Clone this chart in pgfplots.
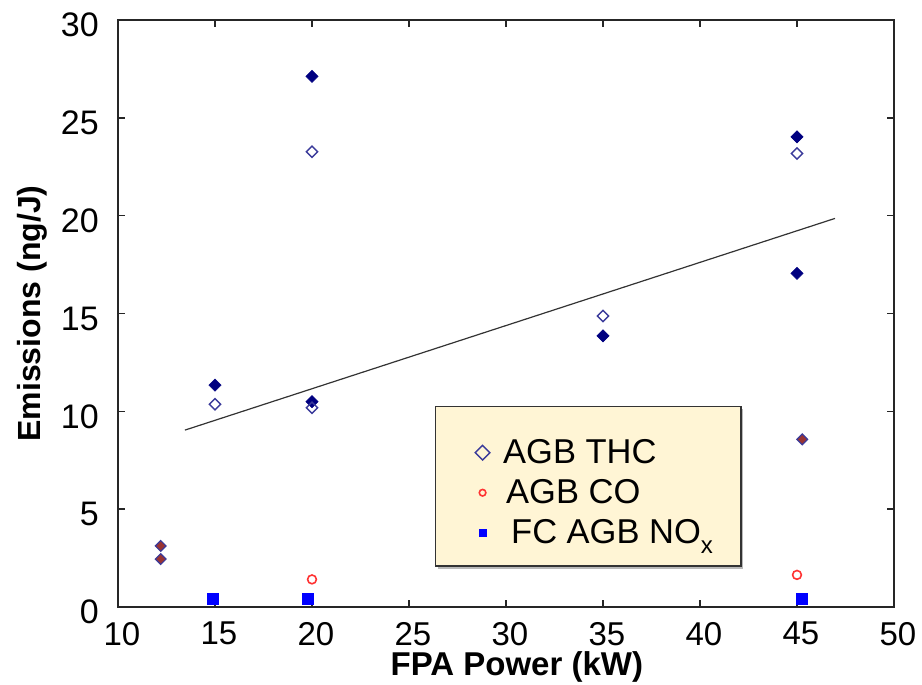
\documentclass[border=0pt]{standalone}
\usepackage{pgfplots}
\pgfplotsset{compat=1.18}
\usepackage{fontspec}
\setmainfont{Liberation Sans}
\usetikzlibrary{shadows}
\definecolor{navyd}{HTML}{000080}
\definecolor{thcopen}{HTML}{3A3A9A}
\definecolor{brownd}{HTML}{993333}
\definecolor{cored}{HTML}{FF3333}
\definecolor{noxblue}{HTML}{0000FF}
\definecolor{legfill}{HTML}{FFF5D5}
\begin{document}
\begin{tikzpicture}
\begin{axis}[
  scale only axis, width=776pt, height=587pt,
  xmin=10, xmax=50, ymin=0, ymax=30,
  xtick={10,15,...,50}, ytick={0,5,...,30},
  tick align=inside, major tick length=7pt,
  tick style={line width=1.5pt, color=black!85},
  axis line style={line width=2pt, color=black!85},
  /pgf/number format/assume math mode=true,
  xticklabel style={font=\fontsize{33}{33}\selectfont, anchor=north, inner sep=0pt, yshift=-15pt, xshift=4pt},
  yticklabel style={font=\fontsize{34}{34}\selectfont, anchor=east, inner sep=0pt, xshift=-19pt, yshift=-5pt},
  xlabel={FPA Power (kW)},
  ylabel={Emissions (ng/J)},
  every axis x label/.style={at={(axis description cs:0.514,-0.1165)}, anchor=base, font=\bfseries\fontsize{33}{33}\selectfont},
  every axis y label/.style={at={(axis description cs:-0.1005,0.5)}, rotate=90, anchor=base, font=\bfseries\fontsize{32}{32}\selectfont},
  legend style={at={(axis description cs:0.4085,0.0687)}, anchor=south west,
    fill=legfill, draw=black!80, line width=1.2pt,
    drop shadow={shadow xshift=2.5pt, shadow yshift=-2.5pt, fill=black!55},
    inner xsep=28pt, inner ysep=19.85pt, row sep=0pt, column sep=0pt,
    font=\fontsize{34.5}{40}\selectfont,
    nodes={inner sep=0pt, text height=37.5pt, text depth=2.5pt},
    cells={anchor=base west}},
  legend image code/.code={\path (-18.4pt,11pt) (20pt,11pt); \draw[#1] plot coordinates {(0pt,11pt)};},
]
% unlisted filled diamonds
\addplot[only marks, mark=square*, mark size=4.3pt, mark options={rotate=45, fill=navyd, draw=navyd, line width=0.6pt}, forget plot]
  coordinates {(15,11.34) (20,27.12) (20,10.49) (35,13.86) (45,24.03) (45,17.05)};
% AGB THC
\addplot[only marks, mark=square, mark size=4pt, mark options={rotate=45, fill=white, draw=thcopen, line width=1.4pt},
  legend image post style={mark size=5.2pt}]
  coordinates {(15,10.36) (20,23.27) (20,10.18) (35,14.87) (45,23.18)};
% unlisted brown diamonds
\addplot[only marks, mark=square*, mark size=3.8pt, mark options={rotate=45, fill=brownd, draw=thcopen, line width=1.2pt}, forget plot]
  coordinates {(12.2,3.12) (12.2,2.45) (45.27,8.57)};
% AGB CO
\addplot[only marks, mark=o, mark size=4.4pt, mark options={fill=white, draw=cored, line width=1.6pt},
  legend image post style={mark size=3.3pt}]
  coordinates {(20,1.41) (45,1.64)};
% FC AGB NOx
\addplot[only marks, mark=square*, mark size=5.5pt, mark options={fill=noxblue, draw=noxblue, line width=0.4pt},
  legend image post style={mark size=3.7pt}]
  coordinates {(14.9,0.44) (19.76,0.44) (45.24,0.41)};
% trend line
\addplot[black!80, line width=1.2pt, forget plot] coordinates {(13.45,9.04) (46.96,19.86)};
\legend{AGB THC, \hspace*{3pt}AGB CO, \hspace*{8pt}FC AGB NO\raisebox{-10pt}{\fontsize{24}{24}\selectfont x}}
\end{axis}
\pgfresetboundingbox
\useasboundingbox (-118pt,-78pt) rectangle (804pt,607pt);
\end{tikzpicture}
\end{document}
